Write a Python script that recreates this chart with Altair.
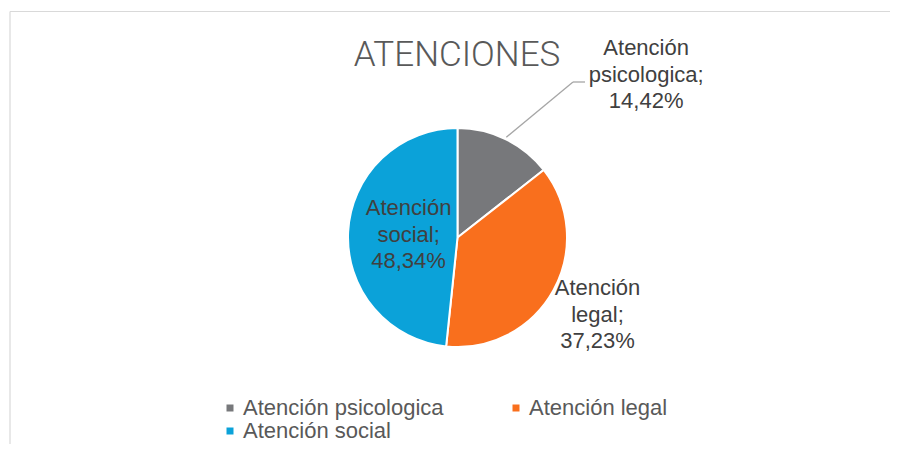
import math
import altair as alt
import pandas as pd

titulo = "ATENCIONES"
categorias = ["Atención psicologica", "Atención legal", "Atención social"]
porcentajes = [14.42, 37.23, 48.34]
etiquetas_pct = ["14,42%", "37,23%", "48,34%"]
colores = ["#77787B", "#F96F1D", "#0BA2D9"]

df = pd.DataFrame({
    "categoria": categorias,
    "valor": porcentajes,
    "pct": etiquetas_pct,
    "orden": list(range(len(categorias))),
})
df["etiqueta"] = [c.split(" ", 1)[0] + "\n" + c.split(" ", 1)[1] + ";\n" + p
                  for c, p in zip(categorias, etiquetas_pct)]

CX, CY, R = 449.5, 229.5, 109.5
FONT = "Liberation Sans"
theta_scale = alt.Scale(domain=[0, 1], range=[0, 2 * math.pi])

base = (
    alt.Chart(df)
    .transform_joinaggregate(total="sum(valor)")
    .transform_window(cum="sum(valor)", sort=[alt.SortField("orden")], frame=[None, 0])
    .transform_calculate(
        inicio="(datum.cum - datum.valor) / datum.total",
        fin="datum.cum / datum.total",
        mid="(datum.cum - datum.valor / 2) / datum.total",
    )
)

arcs = base.mark_arc(outerRadius=R, stroke="white", strokeWidth=2).encode(
    theta=alt.Theta("inicio:Q", scale=theta_scale),
    theta2="fin:Q",
    x=alt.value(CX),
    y=alt.value(CY),
    color=alt.Color(
        "categoria:N",
        scale=alt.Scale(domain=categorias, range=colores),
        legend=alt.Legend(
            title=None,
            orient="none",
            direction="horizontal",
            legendX=211,
            legendY=389,
            columns=2,
            symbolType="square",
            symbolSize=49,
            symbolStrokeWidth=0,
            labelFont=FONT,
            labelFontSize=22,
            labelColor="#595959",
            labelOffset=2,
            columnPadding=61,
            rowPadding=1,
            padding=0,
            labelLimit=400,
        ),
    ),
    tooltip=["categoria", "pct"],
)

def label_layer(cat, radius, theta_off=0.0):
    return base.transform_filter(alt.datum.categoria == cat).mark_text(
        radius=radius,
        thetaOffset=theta_off,
        font=FONT,
        fontSize=22,
        lineHeight=26.5,
        lineBreak="\n",
        color="#404040",
        align="center",
        baseline="middle",
        dy=-26.5,
    ).encode(
        theta=alt.Theta("mid:Q", scale=theta_scale),
        x=alt.value(CX),
        y=alt.value(CY),
        text="etiqueta:N",
    )

lab_psi = label_layer(categorias[0], 249, math.radians(23.3))
lab_leg = label_layer(categorias[1], 160)
lab_soc = label_layer(categorias[2], 49)

leader = (
    base.transform_filter(alt.datum.categoria == categorias[0])
    .transform_calculate(
        lx="%f + %f * sin(2 * PI * datum.mid)" % (CX, R + 2),
        ly="%f - %f * cos(2 * PI * datum.mid)" % (CY, R + 2),
    )
    .mark_rule(color="#A6A6A6", strokeWidth=1.3)
    .encode(
        x=alt.X("lx:Q", scale=None),
        y=alt.Y("ly:Q", scale=None),
        x2=alt.value(565),
        y2=alt.value(74),
    )
)
leader2 = (
    base.transform_filter(alt.datum.categoria == categorias[0])
    .mark_rule(color="#A6A6A6", strokeWidth=1.3)
    .encode(x=alt.value(565), x2=alt.value(577), y=alt.value(74))
)

title = alt.Chart(pd.DataFrame({"t": [titulo]})).mark_text(
    font="Roboto", fontWeight=300, fontSize=35, color="#595959",
    align="center", baseline="alphabetic",
).encode(text="t:N", x=alt.value(449), y=alt.value(58))

border_left = alt.Chart(pd.DataFrame({"a": [0]})).mark_rule(
    color="#D9D9D9", strokeWidth=1.2
).encode(x=alt.value(2), y=alt.value(3.5), y2=alt.value(436))
border_top = alt.Chart(pd.DataFrame({"a": [0]})).mark_rule(
    color="#D9D9D9", strokeWidth=1.2
).encode(x=alt.value(2), x2=alt.value(882), y=alt.value(3.5))

chart = (
    alt.layer(border_left, border_top, arcs, leader, leader2, lab_psi, lab_leg, lab_soc, title)
    .properties(width=882, height=436, padding=0,
                autosize=alt.AutoSizeParams(type="none"), background="white")
    .configure_view(stroke=None)
)

chart.save("out.html", embed_options={"renderer": "svg", "actions": False})
